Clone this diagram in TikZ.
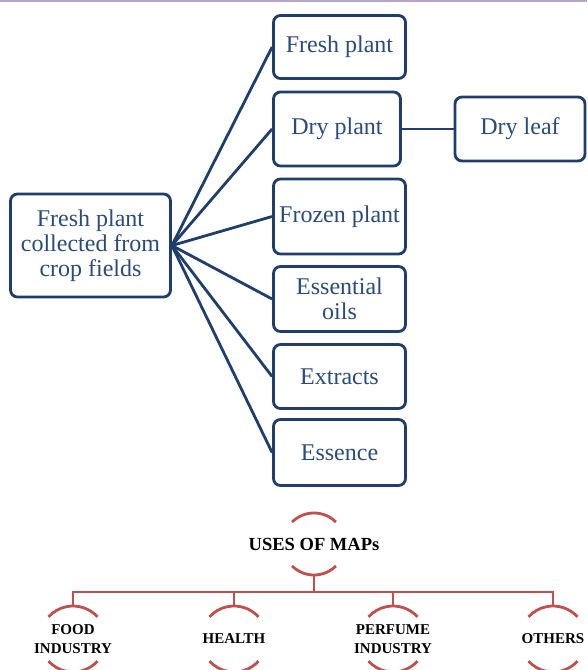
\documentclass[tikz,border=0pt]{standalone}
\usepackage{fontspec}
\setmainfont{Liberation Serif}
\usepackage{tikz}

\definecolor{navy}{HTML}{1F3E6C}
\definecolor{navytext}{HTML}{2A4B7C}
\definecolor{mapred}{HTML}{C0504D}
\definecolor{topline}{HTML}{B8A5CB}

\begin{document}
\begin{tikzpicture}[x=1pt,y=-1pt,
        box/.style={draw=navy,line width=2.8pt,rounded corners=7pt,fill=white,text=navytext,
            align=center,inner sep=0pt,font=\fontsize{24}{25}\selectfont},
        link/.style={draw=navy,line width=2.8pt},
        usetext/.style={align=center,inner sep=0pt,font=\bfseries\fontsize{15}{19}\selectfont},
        arcline/.style={draw=mapred,line width=2.8pt},
        redline/.style={draw=mapred,line width=2pt}]
            \useasboundingbox (0,0) rectangle (587,670);
            \draw[topline,line width=2pt] (0,1) -- (587,1);

            % plant forms
            \node[box,minimum width=160pt,minimum height=103pt] (src) at (90.5,245.5) {Fresh plant\\collected from\\crop fields};
            \node[box,minimum width=132pt,minimum height=63pt] (fresh) at (339.5,47) {Fresh plant};
            \node[box,minimum width=127pt,minimum height=74pt] (dry) at (337,129) {Dry plant};
            \node[box,minimum width=130pt,minimum height=64pt] (leaf) at (520,129) {Dry leaf};
            \node[box,minimum width=132pt,minimum height=75pt] (frozen) at (339.5,216.5) {Frozen plant};
            \node[box,minimum width=132pt,minimum height=65pt] (oils) at (339.5,299) {Essential\\oils};
            \node[box,minimum width=132pt,minimum height=64pt] (extracts) at (339.5,376.5) {Extracts};
            \node[box,minimum width=132pt,minimum height=66pt] (essence) at (339.5,452.5) {Essence};

            \foreach \n in {fresh,dry,frozen,oils,extracts,essence}
                \draw[link] (src.east) -- (\n.west);
            \draw[link] (dry.east) -- (leaf.west);

            % uses of MAPs
            \node[usetext,font=\bfseries\fontsize{18.5}{20}\selectfont] (uses) at (314,544) {USES OF MAPs};
            \node[usetext] (food) at (73,639) {FOOD\\INDUSTRY};
            \node[usetext] (health) at (234,639) {HEALTH};
            \node[usetext] (perfume) at (393,639) {PERFUME\\INDUSTRY};
            \node[usetext] (others) at (553,639) {OTHERS};

            \draw[arcline] (uses.center) ++(45:31) arc (45:135:31);
            \draw[arcline] (uses.center) ++(-45:31) arc (-45:-135:31);
            \foreach \n in {food,health,perfume,others} {
                \draw[arcline] (\n.center) ++(42:33) arc (42:138:33);
                \draw[arcline] (\n.center) ++(-42:33) arc (-42:-138:33);
            }

            \coordinate (bus) at (314,592);
            \draw[redline] ([yshift=-31pt]uses.center) -- (bus);
            \draw[redline] ([yshift=33pt]food.center) |- (others |- bus) -- ([yshift=33pt]others.center);
            \foreach \n in {health,perfume}
                \draw[redline] (\n |- bus) -- ([yshift=33pt]\n.center);
        \end{tikzpicture}
\end{document}
